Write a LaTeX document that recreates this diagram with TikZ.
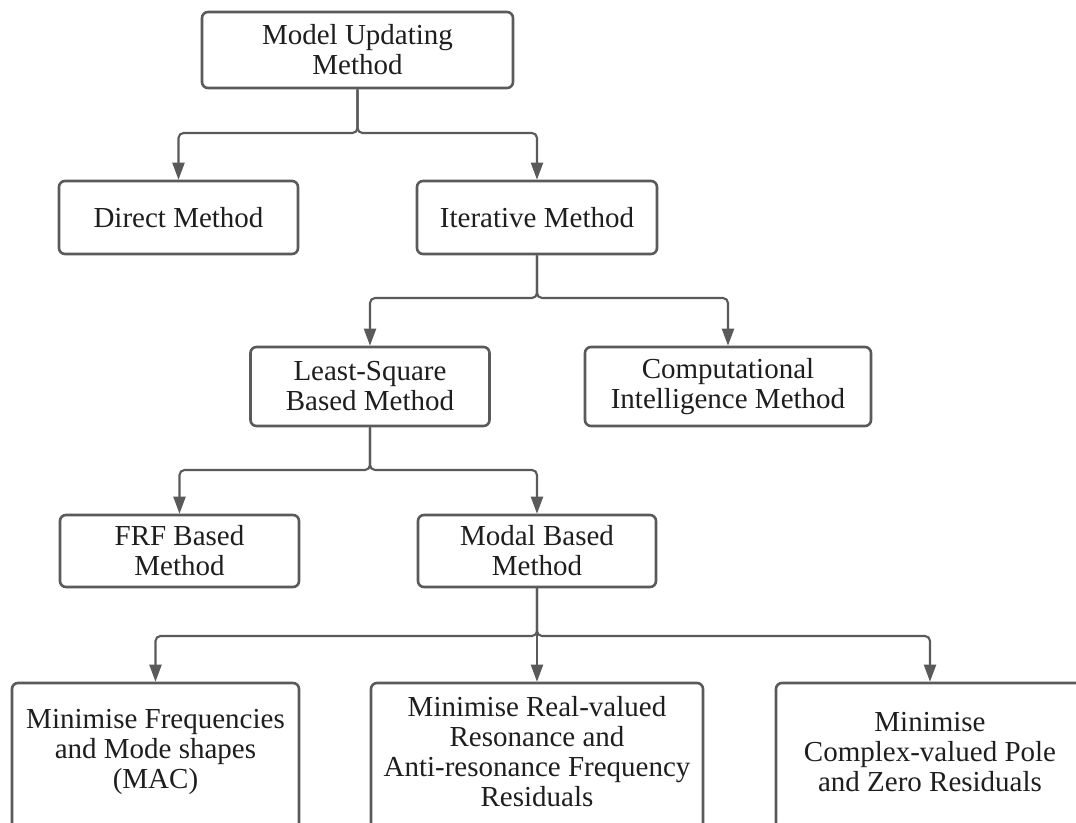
\documentclass[tikz,border=0pt]{standalone}
\usepackage{fontspec}
\setmainfont{Liberation Serif}
\usetikzlibrary{arrows.meta}
\definecolor{linegray}{HTML}{5A5A5A}
\definecolor{txt}{HTML}{1E1E1E}
\begin{document}
\begin{tikzpicture}[x=1pt,y=-1pt,
  box/.style={draw=linegray, line width=2.6pt, rounded corners=6pt, inner sep=0pt,
    align=center, text=txt, font=\fontsize{29}{30}\selectfont},
  boxtext/.style={inner sep=0pt, align=center, text=txt, font=\fontsize{29}{30}\selectfont},
  conn/.style={draw=linegray, line width=2.1pt, rounded corners=5pt,
    -{Triangle[length=17pt,width=12pt]}}]
\useasboundingbox (0,0) rectangle (1076,822);
\clip (0,0) rectangle (1076,822);
\fill[white] (0,0) rectangle (1076,822);
% level 0
\node[box, minimum width=311pt, minimum height=76pt] (model) at (357.5,50) {Model Updating\\Method};
% level 1
\node[box, minimum width=239pt, minimum height=73pt] (direct) at (178.5,217.5) {Direct Method};
\node[box, minimum width=240pt, minimum height=73pt] (iter) at (537,217.5) {Iterative Method};
% level 2
\node[box, minimum width=239pt, minimum height=79pt] (least) at (370,386.5) {Least-Square\\Based Method};
\node[box, minimum width=286pt, minimum height=79pt] (comp) at (728,386.5) {Computational\\Intelligence Method};
% level 3
\node[box, minimum width=239pt, minimum height=72pt] (frf) at (179.5,551) {FRF Based\\Method};
\node[box, minimum width=238pt, minimum height=72pt] (modal) at (537,551) {Modal Based\\Method};
% level 4 (boxes run past the lower edge)
\node[box, minimum width=287pt, minimum height=160pt] (minA) at (155.5,763) {};
\node[box, minimum width=332pt, minimum height=160pt] (minB) at (537,763) {};
\node[box, minimum width=308pt, minimum height=160pt] (minC) at (930,763) {};
\node[boxtext] (minAt) at (155.5,752) {Minimise Frequencies\\and Mode shapes\\(MAC)};
\node[boxtext] (minBt) at (537,752) {Minimise Real-valued\\Resonance and\\Anti-resonance Frequency\\Residuals};
\node[boxtext] (minCt) at (930,752) {Minimise\\Complex-valued Pole\\and Zero Residuals};
% branch points
\coordinate (b0) at (357.5,133);
\coordinate (b1) at (537,298);
\coordinate (b2) at (370,470);
\coordinate (b3) at (537,636);
% connectors
\draw[conn] (model.south) -- (b0) -| (direct.north);
\draw[conn] (model.south) -- (b0) -| (iter.north);
\draw[conn] (iter.south) -- (b1) -| (least.north);
\draw[conn] (iter.south) -- (b1) -| (comp.north);
\draw[conn] (least.south) -- (b2) -| (frf.north);
\draw[conn] (least.south) -- (b2) -| (modal.north);
\draw[conn] (modal.south) -- (b3) -| (minA.north);
\draw[conn] (modal.south) -- (minB.north);
\draw[conn] (modal.south) -- (b3) -| (minC.north);
\end{tikzpicture}
\end{document}
